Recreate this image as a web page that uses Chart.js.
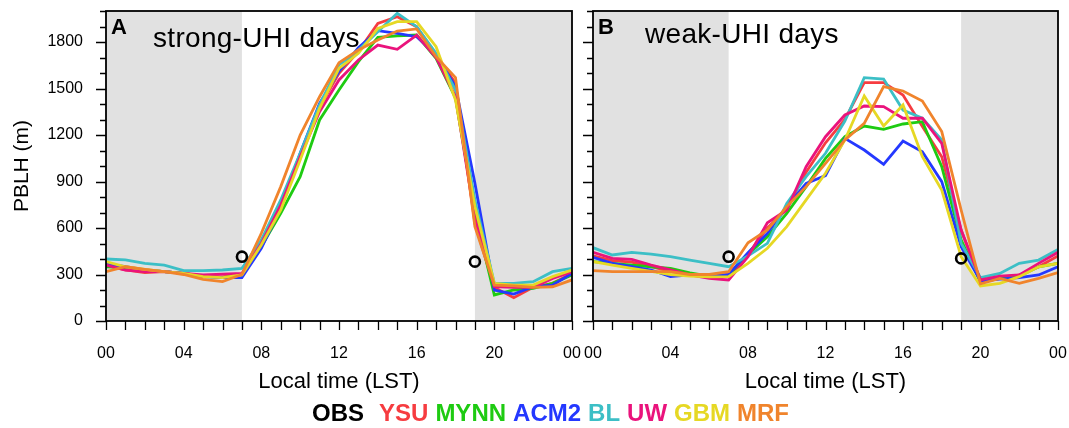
<!DOCTYPE html>
<html>
<head>
<meta charset="utf-8">
<script src="https://cdn.jsdelivr.net/npm/chart.js@4.4.1/dist/chart.umd.min.js"></script>
<style>
  html, body { margin: 0; padding: 0; background: #fff; }
  #wrap { position: relative; width: 1069px; height: 428px; overflow: hidden; }
  canvas { position: absolute; top: 0; }
  #chartA { left: 0; }
  #chartB { left: 575px; }
  #legend { position: absolute; left: 312px; top: 401px; font: bold 24px "Liberation Sans", Arial, sans-serif;
            line-height: 24px; white-space: nowrap; }
  #legend span { margin-right: 7px; }
  #legend span.obs { margin-right: 15px; }
</style>
</head>
<body>
<div id="wrap">
  <canvas id="chartA" width="590" height="400"></canvas>
  <canvas id="chartB" width="494" height="400"></canvas>
  <div id="legend"></div>
</div>
<script>
// hours of the day, 00 LST to next 00 LST
const hours = [0, 1, 2, 3, 4, 5, 6, 7, 8, 9, 10, 11, 12, 13, 14, 15, 16, 17, 18, 19, 20, 21, 22, 23, 24];
const xTickLabels = ['00', '04', '08', '12', '16', '20', '00'];
const yTickLabels = [0, 300, 600, 900, 1200, 1500, 1800];
const nightSpans = [[0, 7], [19, 24]];

const schemes = ['YSU', 'MYNN', 'ACM2', 'BL', 'UW', 'GBM', 'MRF'];
const schemeColors = ['#f63c40', '#1ecb12', '#2438ff', '#3cbfc6', '#ea137c', '#e6d824', '#f0842c'];

// strong-UHI days (panel A), PBLH in m
const strongYSU  = [360, 330, 312, 318, 307, 290, 285, 300, 520, 748, 1070, 1380, 1598, 1740, 1920, 1963, 1899, 1716, 1533, 630, 217, 150, 217, 243, 307];
const strongMYNN = [350, 345, 330, 318, 307, 290, 280, 300, 480, 695, 931, 1297, 1490, 1673, 1830, 1839, 1845, 1695, 1440, 695, 168, 200, 211, 243, 297];
const strongACM2 = [370, 350, 330, 318, 307, 286, 280, 280, 469, 730, 1082, 1404, 1610, 1763, 1873, 1856, 1834, 1716, 1512, 888, 200, 174, 221, 232, 307];
const strongBL   = [400, 394, 372, 361, 325, 325, 329, 340, 523, 781, 1082, 1394, 1652, 1748, 1867, 1985, 1899, 1727, 1490, 781, 243, 243, 254, 318, 340];
const strongUW   = [361, 329, 318, 318, 307, 297, 303, 307, 500, 748, 1060, 1350, 1555, 1684, 1780, 1753, 1845, 1700, 1447, 660, 221, 217, 217, 275, 318];
const strongGBM  = [383, 350, 333, 318, 307, 286, 280, 297, 490, 716, 1039, 1372, 1630, 1727, 1888, 1931, 1931, 1770, 1426, 738, 243, 232, 232, 286, 329];
const strongMRF  = [318, 350, 333, 318, 300, 269, 254, 300, 566, 867, 1200, 1447, 1667, 1748, 1813, 1871, 1884, 1705, 1570, 609, 232, 226, 217, 221, 265];

// weak-UHI days (panel B)
const weakYSU  = [420, 390, 380, 350, 320, 300, 285, 300, 430, 600, 720, 960, 1150, 1300, 1538, 1538, 1458, 1254, 1060, 587, 260, 275, 297, 350, 420];
const weakMYNN = [383, 372, 361, 350, 340, 310, 290, 290, 430, 544, 695, 867, 1049, 1189, 1258, 1237, 1271, 1286, 996, 523, 250, 275, 290, 350, 372];
const weakACM2 = [411, 372, 350, 329, 286, 297, 290, 300, 440, 565, 740, 888, 938, 1178, 1103, 1011, 1161, 1092, 899, 480, 260, 270, 280, 297, 350];
const weakBL   = [473, 426, 443, 432, 415, 393, 372, 350, 420, 501, 759, 931, 1082, 1290, 1570, 1561, 1361, 1308, 1168, 501, 280, 307, 372, 393, 462];
const weakUW   = [443, 404, 398, 361, 330, 297, 275, 265, 415, 634, 716, 996, 1189, 1329, 1387, 1383, 1308, 1308, 1146, 587, 265, 290, 297, 372, 443];
const weakGBM  = [383, 360, 340, 320, 300, 290, 285, 286, 372, 469, 609, 781, 953, 1168, 1452, 1258, 1394, 1060, 845, 415, 226, 243, 286, 350, 372];
const weakMRF  = [325, 318, 318, 318, 318, 300, 300, 318, 505, 587, 738, 867, 1017, 1168, 1275, 1512, 1484, 1419, 1222, 716, 240, 275, 243, 275, 312];

// OBS (only 07 and 19 LST)
const obsHours  = [7, 19];
const strongOBS = [415, 383];
const weakOBS   = [415, 404];

const FONT = '"Liberation Sans", Arial, Helvetica, sans-serif';

// shaded night, box frame, tick marks, panel labels
const panelDecor = {
  id: 'panelDecor',
  beforeDatasetsDraw(chart) {
    const { ctx, chartArea: a, scales: { x } } = chart;
    ctx.save();
    ctx.fillStyle = '#e1e1e1';
    nightSpans.forEach(([s, e]) => {
      const x0 = x.getPixelForValue(s), x1 = x.getPixelForValue(e);
      ctx.fillRect(x0, a.top, x1 - x0, a.bottom - a.top);
    });
    ctx.restore();
  },
  afterDraw(chart, args, opts) {
    const { ctx, chartArea: a, scales: { x, y } } = chart;
    ctx.save();
    ctx.strokeStyle = '#000';
    ctx.lineWidth = 1.3;
    ctx.beginPath();
    x.ticks.forEach(t => {
      const px = Math.round(x.getPixelForValue(t.value)) + 0.5;
      ctx.moveTo(px, a.bottom);
      ctx.lineTo(px, a.bottom + 9);
    });
    y.ticks.forEach(t => {
      const py = Math.round(y.getPixelForValue(t.value)) + 0.5;
      const len = yTickLabels.includes(t.value) ? 10 : 6;
      ctx.moveTo(a.left, py);
      ctx.lineTo(a.left - len, py);
    });
    ctx.stroke();
    ctx.lineWidth = 1.8;
    ctx.strokeRect(a.left, a.top, a.right - a.left, a.bottom - a.top);

    ctx.fillStyle = '#000';
    ctx.textBaseline = 'alphabetic';
    ctx.font = 'bold 22px ' + FONT;
    ctx.fillText(opts.letter, a.left + 5, a.top + 23);
    ctx.font = '28px ' + FONT;
    ctx.letterSpacing = '0.3px';
    ctx.fillText(opts.title, a.left + opts.titleDx, a.top + opts.titleDy);
    ctx.restore();
  }
};

function makeDatasets(series, obs) {
  const sets = series.map((vals, i) => ({
    label: schemes[i],
    data: hours.map((h, k) => ({ x: h, y: vals[k] })),
    borderColor: schemeColors[i],
    backgroundColor: schemeColors[i],
    borderWidth: 2.8,
    pointRadius: 0,
    tension: 0,
    order: schemes.length - i
  }));
  sets.push({
    label: 'OBS',
    data: obsHours.map((h, k) => ({ x: h, y: obs[k] })),
    showLine: false,
    pointRadius: 5,
    pointBorderWidth: 2.6,
    pointBorderColor: '#000',
    pointBackgroundColor: 'rgba(0,0,0,0)',
    order: 0
  });
  return sets;
}

function makeChart(id, series, obs, panel) {
  const showY = panel.letter === 'A';
  return new Chart(document.getElementById(id), {
    type: 'line',
    data: { datasets: makeDatasets(series, obs) },
    plugins: [panelDecor],
    options: {
      responsive: false,
      animation: false,
      devicePixelRatio: 1,
      layout: { padding: { top: 11, right: panel.padRight, left: 0, bottom: 0 } },
      plugins: {
        legend: { display: false },
        tooltip: { enabled: false },
        panelDecor: panel
      },
      scales: {
        x: {
          type: 'linear',
          min: 0, max: 24,
          grid: { display: false, drawTicks: false },
          border: { display: false },
          ticks: {
            stepSize: 1, autoSkip: false, maxRotation: 0, padding: 23,
            color: '#000', font: { family: FONT, size: 16 },
            callback: v => (v % 4 === 0 ? xTickLabels[v / 4] : '')
          },
          title: {
            display: true, text: 'Local time (LST)', color: '#000',
            font: { family: FONT, size: 22 }, padding: { top: 0, bottom: 5 }
          },
          afterFit: s => { s.height = 79; s.paddingLeft = 0; s.paddingRight = 0; }
        },
        y: {
          min: 0, max: 2000,
          grid: { display: false, drawTicks: false },
          border: { display: false },
          ticks: {
            stepSize: 100, autoSkip: false, padding: 23,
            color: '#000', font: { family: FONT, size: 16 },
            callback: v => (showY && yTickLabels.includes(v) ? String(v) : '')
          },
          title: {
            display: showY, text: 'PBLH (m)', color: '#000',
            font: { family: FONT, size: 21 }, padding: { top: 10, bottom: 0 }
          },
          afterFit: s => { s.width = panel.yWidth; s.paddingTop = 0; s.paddingBottom = 0; }
        }
      }
    }
  });
}

makeChart('chartA',
  [strongYSU, strongMYNN, strongACM2, strongBL, strongUW, strongGBM, strongMRF], strongOBS,
  { letter: 'A', title: 'strong-UHI days', titleDx: 47, titleDy: 36, padRight: 18, yWidth: 106 });
makeChart('chartB',
  [weakYSU, weakMYNN, weakACM2, weakBL, weakUW, weakGBM, weakMRF], weakOBS,
  { letter: 'B', title: 'weak-UHI days', titleDx: 52, titleDy: 32, padRight: 11, yWidth: 18 });

// legend row: coloured scheme names
const legend = document.getElementById('legend');
[['OBS', '#000']].concat(schemes.map((s, i) => [s, schemeColors[i]])).forEach(([name, col], i) => {
  const sp = document.createElement('span');
  sp.textContent = name;
  sp.style.color = col;
  if (i === 0) sp.className = 'obs';
  legend.appendChild(sp);
});
</script>
</body>
</html>
